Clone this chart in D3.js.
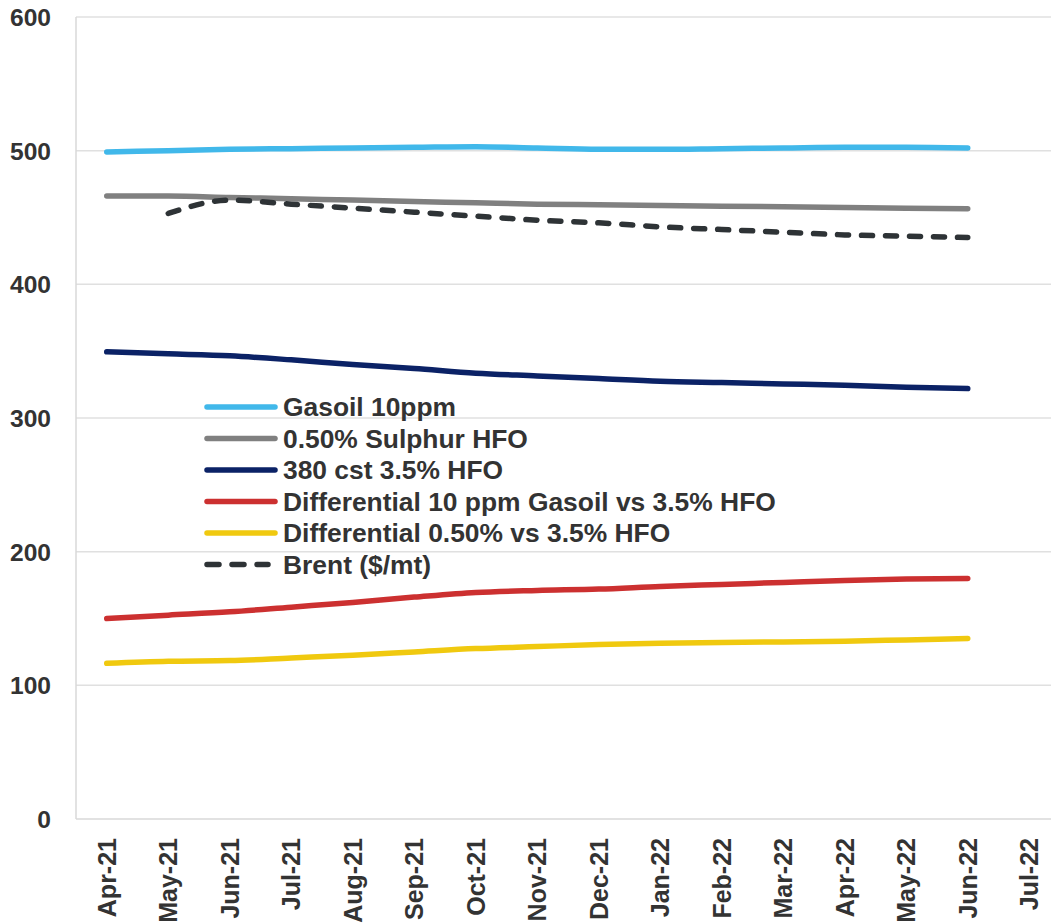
<!DOCTYPE html>
<html><head><meta charset="utf-8">
<script src="https://cdn.jsdelivr.net/npm/d3@7"></script>
<style>body{margin:0;background:#fff;overflow:hidden}svg{display:block}</style>
</head><body><svg id="c" width="1051" height="923"></svg>
<script>
const categories = ["Apr-21","May-21","Jun-21","Jul-21","Aug-21","Sep-21","Oct-21","Nov-21","Dec-21","Jan-22","Feb-22","Mar-22","Apr-22","May-22","Jun-22","Jul-22"];
const yTicks = [0,100,200,300,400,500,600];
const gasoil = [499,500,501,501.5,502,502.5,503,502,501,501,501.5,502,502.5,502.5,502,null];
const hfo050 = [466,466,465,464,463,462,461,460,459.5,459,458.5,458,457.5,457,456.5,null];
const hfo380 = [349.5,348,346.5,343.5,340,337,333.5,331.5,329.5,327.5,326.5,325.5,324.5,323,322,null];
const diffGasoil = [150,152.5,155,158.5,162,166,169.5,171,172,174,175.5,177,178.5,179.5,180,null];
const diff050 = [116.5,118,118.5,120.5,122.5,125,127.5,129,130.5,131.5,132,132.5,133,134,135,null];
const brent = [null,453,463,460,457,454,451,448,446,443,441,439,437,436,435,null];
const seriesNames = ["Gasoil 10ppm","0.50% Sulphur HFO","380 cst 3.5% HFO","Differential 10 ppm Gasoil vs 3.5% HFO","Differential 0.50% vs 3.5% HFO","Brent ($/mt)"];

const seriesData = [gasoil,hfo050,hfo380,diffGasoil,diff050,brent];
const colors = ["#41b8ea","#808080","#0b2266","#cc3030","#f0c90f","#2e3336"];
const dashed = [false,false,false,false,false,true];

const svg = d3.select("#c");
const L=76, T=17, B=819, W=16*61.5;
const x = d3.scalePoint().domain(categories).range([L+30.75, L+W-30.75]);
const y = d3.scaleLinear().domain([0,600]).range([B,T]);
const font = "'Liberation Sans', Arial, sans-serif";

// gridlines
svg.append("g").selectAll("line").data(yTicks.filter(d=>d>0)).join("line")
  .attr("x1",L).attr("x2",1051).attr("y1",d=>y(d)).attr("y2",d=>y(d))
  .attr("stroke","#e0e0e0").attr("stroke-width",1.5);
// axes lines
svg.append("line").attr("x1",L).attr("x2",1051).attr("y1",B).attr("y2",B).attr("stroke","#d9d9d9").attr("stroke-width",1.5);
svg.append("line").attr("x1",L).attr("x2",L).attr("y1",T).attr("y2",B).attr("stroke","#d9d9d9").attr("stroke-width",1.5);

// y labels
const yAxis = d3.axisLeft(y).tickValues(yTicks).tickSize(0).tickPadding(0);
const gy = svg.append("g").attr("transform",`translate(51,0)`).call(yAxis);
gy.select(".domain").remove();
gy.selectAll("text").attr("font-family",font).attr("font-size",24.6).attr("font-weight","bold").attr("fill","#333").attr("dy","0.35em");

// x labels
const xAxis = d3.axisBottom(x).tickSize(0).tickPadding(0);
const gx = svg.append("g").attr("transform",`translate(0,${B})`).call(xAxis);
gx.select(".domain").remove();
gx.selectAll("text").attr("font-family",font).attr("font-size",25).attr("font-weight","bold").attr("fill","#333")
  .attr("transform","translate(0,19) rotate(-90)").attr("text-anchor","end").attr("x",0).attr("y",0).attr("dy","0.33em");

// lines
const line = d3.line().defined(d=>d.v!=null).x(d=>x(d.c)).y(d=>y(d.v)).curve(d3.curveMonotoneX);
seriesData.forEach((s,i)=>{
  svg.append("path").datum(s.map((v,j)=>({c:categories[j],v})))
    .attr("d",line).attr("fill","none").attr("stroke",colors[i]).attr("stroke-width",5.5)
    .attr("stroke-linecap","round").attr("stroke-linejoin","round")
    .attr("stroke-dasharray",dashed[i]?"11,13":null);
});

// legend
const lg = svg.append("g");
seriesNames.forEach((n,i)=>{
  const yy = 407 + i*31.5;
  lg.append("line").attr("x1",207).attr("x2",dashed[i]?268:275).attr("y1",yy).attr("y2",yy)
    .attr("stroke",colors[i]).attr("stroke-width",5.5).attr("stroke-linecap","round")
    .attr("stroke-dasharray",dashed[i]?"12,13":null);
  lg.append("text").attr("x",283).attr("y",yy).attr("dy","0.35em").text(n)
    .attr("font-family",font).attr("font-size",26.4).attr("font-weight","bold").attr("fill","#333");
});
</script></body></html>
